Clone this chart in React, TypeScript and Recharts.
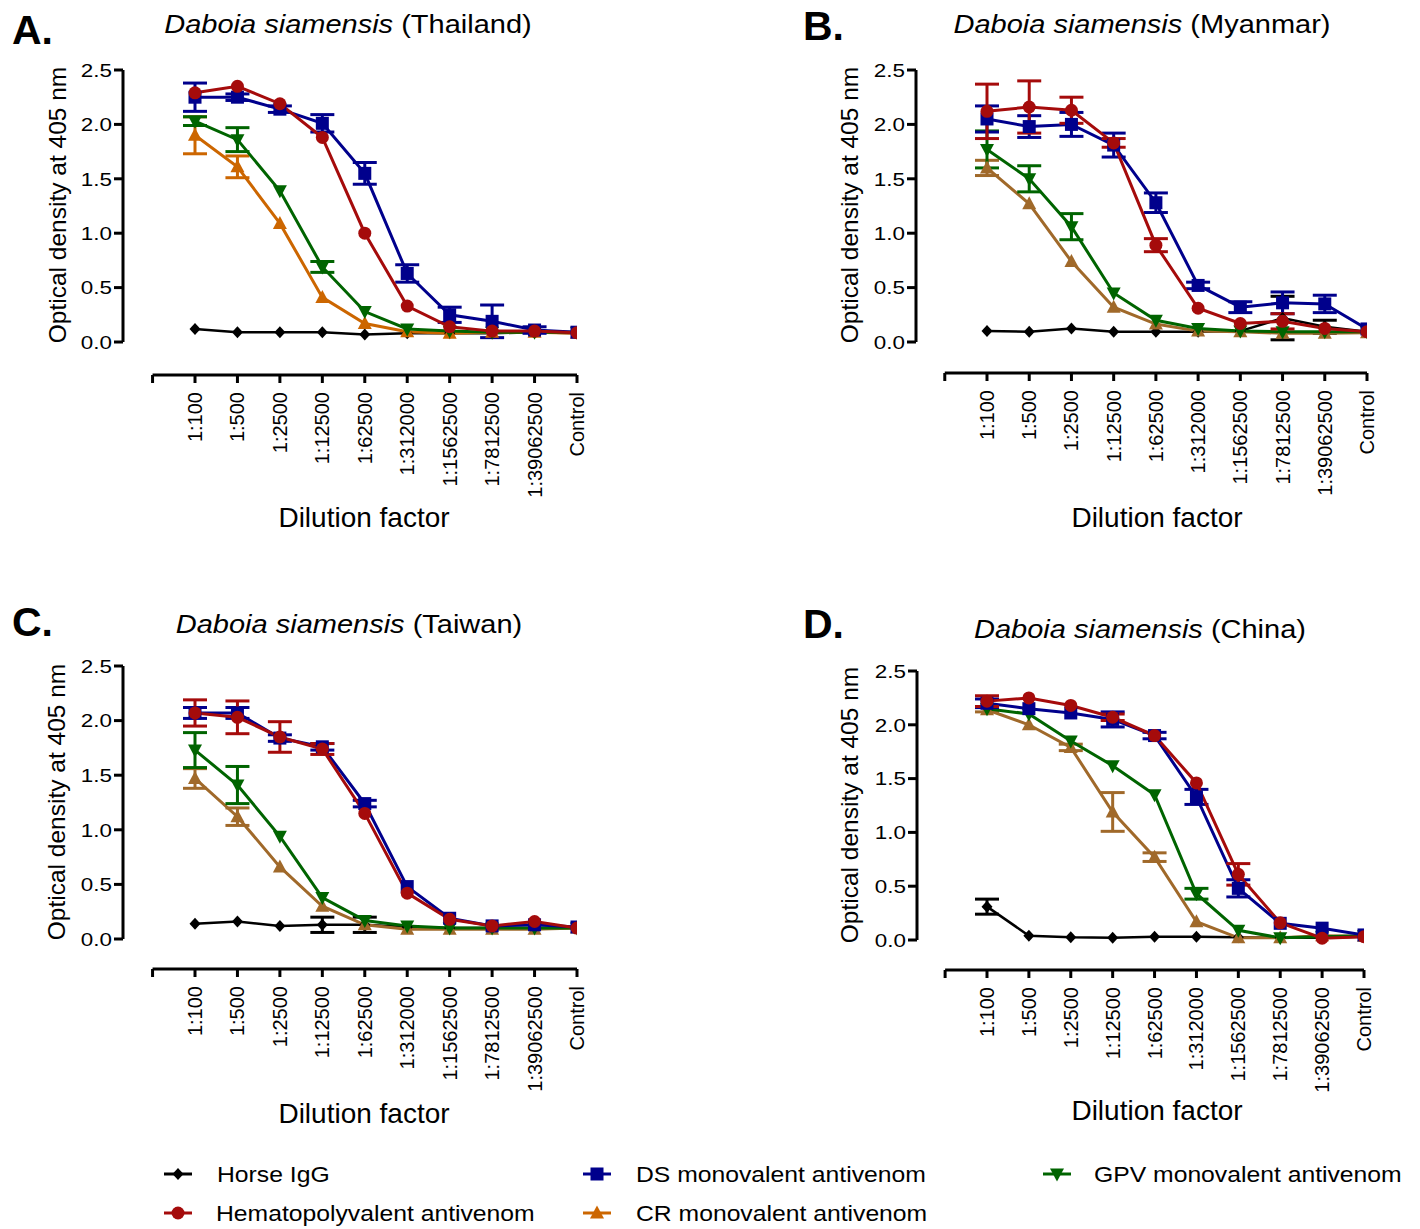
import React from "react";
import { LineChart, Line, XAxis, YAxis, ErrorBar, ReferenceLine } from "recharts";

const FONT = "'Liberation Sans', Arial, Helvetica, sans-serif";

const dilutions = [
  "1:100",
  "1:500",
  "1:2500",
  "1:12500",
  "1:62500",
  "1:312000",
  "1:1562500",
  "1:7812500",
  "1:39062500",
  "Control",
];
const yTicks = [0, 0.5, 1, 1.5, 2, 2.5];

// A. Thailand
const thHorse = [0.12, 0.09, 0.09, 0.09, 0.07, 0.08, 0.08, 0.08, 0.09, 0.08];
const thHorseErr = [0, 0, 0, 0, 0, 0, 0, 0, 0, 0];
const thHemato = [2.29, 2.35, 2.19, 1.88, 1.0, 0.33, 0.14, 0.1, 0.1, 0.085];
const thHematoErr = [0, 0, 0, 0, 0, 0, 0, 0, 0, 0];
const thDs = [2.25, 2.25, 2.14, 2.01, 1.55, 0.63, 0.25, 0.19, 0.11, 0.09];
const thDsErr = [0.13, 0.03, 0.03, 0.08, 0.1, 0.08, 0.07, 0.15, 0.03, 0];
const thCr = [1.9, 1.61, 1.09, 0.41, 0.17, 0.095, 0.08, 0.09, 0.09, 0.08];
const thCrErr = [0.17, 0.1, 0, 0, 0, 0, 0, 0, 0, 0];
const thGpv = [2.03, 1.86, 1.39, 0.69, 0.28, 0.12, 0.1, 0.09, 0.09, 0.09];
const thGpvErr = [0.04, 0.11, 0, 0.05, 0, 0, 0, 0, 0, 0];

// B. Myanmar
const myHorse = [0.1, 0.095, 0.125, 0.095, 0.095, 0.095, 0.1, 0.22, 0.14, 0.095];
const myHorseErr = [0, 0, 0, 0, 0, 0, 0, 0.2, 0.06, 0];
const myHemato = [2.12, 2.16, 2.13, 1.83, 0.89, 0.31, 0.17, 0.19, 0.125, 0.095];
const myHematoErr = [0.25, 0.24, 0.12, 0.04, 0.06, 0, 0, 0.07, 0, 0];
const myDs = [2.05, 1.98, 2.0, 1.81, 1.28, 0.52, 0.32, 0.36, 0.35, 0.12];
const myDsErr = [0.12, 0.1, 0.11, 0.11, 0.09, 0.03, 0.05, 0.1, 0.08, 0];
const myCr = [1.6, 1.27, 0.74, 0.32, 0.165, 0.1, 0.095, 0.08, 0.08, 0.085];
const myCrErr = [0.07, 0, 0, 0, 0, 0, 0, 0, 0, 0];
const myGpv = [1.77, 1.5, 1.06, 0.45, 0.2, 0.125, 0.1, 0.095, 0.095, 0.095];
const myGpvErr = [0.17, 0.12, 0.12, 0, 0, 0, 0, 0, 0, 0];

// C. Taiwan
const twHorse = [0.14, 0.16, 0.12, 0.13, 0.13, 0.11, 0.1, 0.1, 0.1, 0.1];
const twHorseErr = [0, 0, 0, 0.07, 0.07, 0, 0, 0, 0, 0];
const twHemato = [2.07, 2.03, 1.85, 1.74, 1.15, 0.42, 0.18, 0.12, 0.16, 0.1];
const twHematoErr = [0.12, 0.15, 0.14, 0.05, 0, 0, 0, 0, 0, 0];
const twDs = [2.07, 2.07, 1.84, 1.76, 1.24, 0.48, 0.19, 0.12, 0.13, 0.11];
const twDsErr = [0.05, 0.05, 0.03, 0.03, 0.03, 0, 0, 0, 0, 0];
const twCr = [1.47, 1.12, 0.66, 0.3, 0.13, 0.09, 0.09, 0.09, 0.09, 0.1];
const twCrErr = [0.09, 0.08, 0, 0, 0, 0, 0, 0, 0, 0];
const twGpv = [1.73, 1.41, 0.94, 0.38, 0.17, 0.12, 0.1, 0.1, 0.1, 0.1];
const twGpvErr = [0.16, 0.17, 0, 0, 0, 0, 0, 0, 0, 0];

// D. China
const cnHorse = [0.31, 0.04, 0.025, 0.02, 0.03, 0.03, 0.025, 0.02, 0.02, 0.03];
const cnHorseErr = [0.07, 0, 0, 0, 0, 0, 0, 0, 0, 0];
const cnHemato = [2.22, 2.25, 2.18, 2.07, 1.9, 1.46, 0.61, 0.16, 0.016, 0.03];
const cnHematoErr = [0.05, 0, 0, 0.03, 0, 0, 0.1, 0, 0, 0];
const cnDs = [2.2, 2.15, 2.11, 2.05, 1.9, 1.33, 0.48, 0.155, 0.11, 0.047];
const cnDsErr = [0.04, 0, 0, 0.07, 0.03, 0.07, 0.08, 0, 0, 0];
const cnCr = [2.14, 2.0, 1.79, 1.19, 0.77, 0.17, 0.02, 0.02, 0.04, 0.035];
const cnCrErr = [0.02, 0, 0.03, 0.18, 0.04, 0, 0, 0, 0, 0];
const cnGpv = [2.15, 2.1, 1.85, 1.62, 1.35, 0.43, 0.09, 0.02, 0.03, 0.04];
const cnGpvErr = [0, 0, 0, 0, 0, 0.05, 0, 0, 0, 0];

type Kind = "diamond" | "circle" | "square" | "up" | "down";

// draw order (bottom to top)
const series: { key: string; name: string; color: string; kind: Kind }[] = [
  { key: "horse", name: "Horse IgG", color: "#000000", kind: "diamond" },
  { key: "cr", name: "CR monovalent antivenom", color: "#CC6600", kind: "up" },
  { key: "gpv", name: "GPV monovalent antivenom", color: "#006400", kind: "down" },
  { key: "ds", name: "DS monovalent antivenom", color: "#00008C", kind: "square" },
  { key: "hemato", name: "Hematopolyvalent antivenom", color: "#A50B0B", kind: "circle" },
];

function Marker({ kind, cx, cy, color }: { kind: Kind; cx: number; cy: number; color: string }) {
  if (cx == null || cy == null) return null;
  switch (kind) {
    case "diamond":
      return <polygon points={`${cx},${cy - 6} ${cx + 5.5},${cy} ${cx},${cy + 6} ${cx - 5.5},${cy}`} fill={color} />;
    case "circle":
      return <circle cx={cx} cy={cy} r={6.5} fill={color} />;
    case "square":
      return <rect x={cx - 6.5} y={cy - 6.5} width={13} height={13} fill={color} />;
    case "up":
      return <polygon points={`${cx},${cy - 7.5} ${cx + 7},${cy + 5.5} ${cx - 7},${cy + 5.5}`} fill={color} />;
    case "down":
      return <polygon points={`${cx},${cy + 7.5} ${cx + 7},${cy - 5.5} ${cx - 7},${cy - 5.5}`} fill={color} />;
  }
  return null;
}

type Geo = { axisX: number; x1: number; xEnd: number; yTop: number; y0: number; axisY: number };

function buildRows(vals: Record<string, number[]>) {
  return dilutions.map((_, i) => {
    const row: Record<string, number> = { i };
    Object.keys(vals).forEach((k) => {
      row[k] = vals[k][i];
    });
    return row;
  });
}

function Panel({ geo, rows, crColor }: { geo: Geo; rows: Record<string, number>[]; crColor: string }) {
  const unit = (geo.xEnd - geo.x1) / 9;
  const xMin = -(geo.x1 - geo.axisX) / unit;
  const yUnit = (geo.y0 - geo.yTop) / 2.5;
  const yMin = -(geo.axisY - geo.y0) / yUnit;
  const left = geo.axisX - 80;
  const top = geo.yTop - 10;
  const width = geo.xEnd - geo.axisX + 100;
  const height = geo.axisY - geo.yTop + 140;

  return (
    <div style={{ position: "absolute", left, top }}>
      <LineChart width={width} height={height} data={rows} margin={{ top: 10, right: 20, bottom: 10, left: 10 }}>
        <XAxis
          type="number"
          dataKey="i"
          domain={[xMin, 9]}
          allowDataOverflow
          ticks={[-1, 0, 1, 2, 3, 4, 5, 6, 7, 8, 9]}
          interval={0}
          height={120}
          axisLine={false}
          tickLine={{ stroke: "#000", strokeWidth: 3 }}
          tickSize={8}
          tick={(p: any) =>
            p.payload.value < 0 ? (
              <g />
            ) : (
              <text
                x={p.x}
                y={p.y + 7}
                dy="0.35em"
                transform={`rotate(-90 ${p.x} ${p.y + 7})`}
                textAnchor="end"
                fontSize={20}
                fontFamily={FONT}
                fill="#000"
              >
                {dilutions[p.payload.value]}
              </text>
            )
          }
        />
        <YAxis
          type="number"
          domain={[yMin, 2.5]}
          allowDataOverflow
          ticks={yTicks}
          interval={0}
          width={70}
          axisLine={false}
          tickLine={{ stroke: "#000", strokeWidth: 3 }}
          tickSize={9}
          tick={(p: any) => (
            <text
              x={p.x}
              y={p.y}
              dy="0.36em"
              textAnchor="end"
              fontSize={19}
              fontFamily={FONT}
              fill="#000"
              transform={`translate(${p.x} 0) scale(1.18 1) translate(${-p.x} 0)`}
            >
              {Number(p.payload.value).toFixed(1)}
            </text>
          )}
        />
        <ReferenceLine
          segment={[
            { x: xMin, y: 0 },
            { x: xMin, y: 2.5 },
          ]}
          stroke="#000"
          strokeWidth={3}
          ifOverflow="visible"
        />
        <ReferenceLine
          segment={[
            { x: -1, y: yMin },
            { x: 9, y: yMin },
          ]}
          stroke="#000"
          strokeWidth={3}
          ifOverflow="visible"
        />
        {series.map((s) => {
          const color = s.key === "cr" ? crColor : s.color;
          return (
            <Line
              key={s.key}
              type="linear"
              dataKey={s.key}
              stroke={color}
              strokeWidth={s.key === "horse" ? 2.5 : 3}
              isAnimationActive={false}
              activeDot={false}
              dot={(p: any) => <Marker key={`${s.key}-${p.index}`} kind={s.kind} cx={p.cx} cy={p.cy} color={color} />}
            >
              <ErrorBar
                dataKey={`${s.key}Err`}
                width={12}
                strokeWidth={3}
                stroke={color}
                direction="y"
                isAnimationActive={false}
              />
            </Line>
          );
        })}
      </LineChart>
    </div>
  );
}

const panels = [
  {
    letter: "A.",
    country: "(Thailand)",
    crColor: "#CC6600",
    geo: { axisX: 123, x1: 195, xEnd: 577, yTop: 70, y0: 342, axisY: 375 },
    letterPos: [12, 44],
    titlePos: [348, 33],
    yLabelPos: [65.5, 205],
    xLabelPos: [364, 527],
    vals: {
      horse: thHorse, horseErr: thHorseErr, hemato: thHemato, hematoErr: thHematoErr,
      ds: thDs, dsErr: thDsErr, cr: thCr, crErr: thCrErr, gpv: thGpv, gpvErr: thGpvErr,
    },
  },
  {
    letter: "B.",
    country: "(Myanmar)",
    crColor: "#A0692A",
    geo: { axisX: 916, x1: 987, xEnd: 1367, yTop: 70, y0: 342, axisY: 373 },
    letterPos: [803, 40],
    titlePos: [1142, 33],
    yLabelPos: [858, 205],
    xLabelPos: [1157, 527],
    vals: {
      horse: myHorse, horseErr: myHorseErr, hemato: myHemato, hematoErr: myHematoErr,
      ds: myDs, dsErr: myDsErr, cr: myCr, crErr: myCrErr, gpv: myGpv, gpvErr: myGpvErr,
    },
  },
  {
    letter: "C.",
    country: "(Taiwan)",
    crColor: "#A0692A",
    geo: { axisX: 123, x1: 195, xEnd: 577, yTop: 666, y0: 939, axisY: 969 },
    letterPos: [12, 636],
    titlePos: [349, 633],
    yLabelPos: [65, 802],
    xLabelPos: [364, 1123],
    vals: {
      horse: twHorse, horseErr: twHorseErr, hemato: twHemato, hematoErr: twHematoErr,
      ds: twDs, dsErr: twDsErr, cr: twCr, crErr: twCrErr, gpv: twGpv, gpvErr: twGpvErr,
    },
  },
  {
    letter: "D.",
    country: "(China)",
    crColor: "#A0692A",
    geo: { axisX: 917, x1: 987, xEnd: 1364, yTop: 671, y0: 940, axisY: 970 },
    letterPos: [803, 638],
    titlePos: [1140, 638],
    yLabelPos: [858, 805],
    xLabelPos: [1157, 1120],
    vals: {
      horse: cnHorse, horseErr: cnHorseErr, hemato: cnHemato, hematoErr: cnHematoErr,
      ds: cnDs, dsErr: cnDsErr, cr: cnCr, crErr: cnCrErr, gpv: cnGpv, gpvErr: cnGpvErr,
    },
  },
];

// legend layout: [series key, icon centre x, text x, row y]
const legendItems: [string, number, number, number][] = [
  ["horse", 178, 217, 1174],
  ["ds", 597, 636, 1174],
  ["gpv", 1057, 1094, 1174],
  ["hemato", 178, 216, 1213],
  ["cr", 597, 636, 1213],
];

export default function App() {
  return (
    <div
      style={{
        position: "absolute",
        left: 0,
        top: 0,
        width: 1420,
        height: 1229,
        background: "#fff",
        fontFamily: FONT,
        overflow: "hidden",
      }}
    >
      {panels.map((p) => (
        <Panel key={p.letter} geo={p.geo} rows={buildRows(p.vals)} crColor={p.crColor} />
      ))}
      <svg
        width={1420}
        height={1229}
        style={{ position: "absolute", left: 0, top: 0, pointerEvents: "none" }}
        fontFamily={FONT}
      >
        {panels.map((p) => (
          <g key={p.letter}>
            <text x={p.letterPos[0]} y={p.letterPos[1]} fontSize={41} fontWeight="bold" fill="#000">
              {p.letter}
            </text>
            <text
              x={p.titlePos[0]}
              y={p.titlePos[1]}
              fontSize={25}
              textAnchor="middle"
              fill="#000"
              transform={`translate(${p.titlePos[0]} 0) scale(1.16 1) translate(${-p.titlePos[0]} 0)`}
            >
              <tspan fontStyle="italic">Daboia siamensis</tspan>
              <tspan> {p.country}</tspan>
            </text>
            <text
              x={p.yLabelPos[0]}
              y={p.yLabelPos[1]}
              fontSize={24.5}
              textAnchor="middle"
              fill="#000"
              transform={`rotate(-90 ${p.yLabelPos[0]} ${p.yLabelPos[1]})`}
            >
              Optical density at 405 nm
            </text>
            <text x={p.xLabelPos[0]} y={p.xLabelPos[1]} fontSize={28} textAnchor="middle" fill="#000">
              Dilution factor
            </text>
          </g>
        ))}
        {legendItems.map(([key, ix, tx, y]) => {
          const s = series.find((d) => d.key === key)!;
          return (
            <g key={key}>
              <line x1={ix - 14} x2={ix + 14} y1={y} y2={y} stroke={s.color} strokeWidth={3} />
              <Marker kind={s.kind} cx={ix} cy={y} color={s.color} />
              <text
                x={tx}
                y={y + 7.8}
                fontSize={21.5}
                fill="#000"
                transform={`translate(${tx} 0) scale(1.15 1) translate(${-tx} 0)`}
              >
                {s.name}
              </text>
            </g>
          );
        })}
      </svg>
    </div>
  );
}
